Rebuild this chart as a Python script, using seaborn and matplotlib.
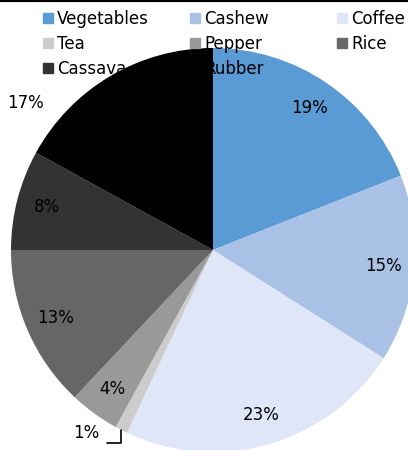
import numpy as np
import matplotlib
matplotlib.use("Agg")
import matplotlib.pyplot as plt
import seaborn as sns

# дані з діаграми (частки культур, %)
crops = ["Vegetables", "Cashew", "Coffee", "Tea", "Pepper", "Rice", "Cassava", "Rubber"]
shares = [19, 15, 23, 1, 4, 13, 8, 17]
crop_colors = ["#5B9BD5", "#AAC1E6", "#DFE6F7", "#CCCCCC", "#999999", "#666666", "#333333", "#000000"]

sns.set_theme(style="white")
plt.rcParams["font.family"] = ["DejaVu Sans"]
plt.rcParams["text.color"] = "black"

W, H, DPI = 408, 450, 100
fig = plt.figure(figsize=(W / DPI, H / DPI), dpi=DPI)
ax = fig.add_axes([0, 0, 1, 1])

# центр кола та радіус у пікселях
cx, cy, r = 213, 250, 202
palette = sns.color_palette(crop_colors)

wedges, texts, pcts = ax.pie(
    shares, colors=palette, startangle=90, counterclock=False,
    autopct="%1.0f%%", pctdistance=0.85,
    wedgeprops=dict(linewidth=0),
    textprops=dict(fontsize=12, color="black"),
)

# підписи, які Excel виніс за межі кола (радіус, кут)
outside = {"Tea": (1.10, -124.7), "Rubber": (1.18, 141.8)}
for name, (dist, ang) in outside.items():
    i = crops.index(name)
    tx, ty = dist * np.cos(np.radians(ang)), dist * np.sin(np.radians(ang))
    pcts[i].set_position((tx, ty))
    if name == "Tea":
        w = wedges[i]
        mid = np.radians((w.theta1 + w.theta2) / 2)
        ex, ey = np.cos(mid), np.sin(mid)
        ax.plot([ex, ex, tx + 0.10], [ey, ty - 0.05, ty - 0.05], color="black", lw=1.2)

ax.set_xlim(-cx / r, (W - cx) / r)
ax.set_ylim(-(H - cy) / r, cy / r)
ax.set_aspect("equal")
ax.axis("off")

# легенда: три колонки поверх кола
cols = [[0, 3, 6], [1, 4, 7], [2, 5]]
col_x = [43, 190, 337]
for idx, x0 in zip(cols, col_x):
    handles = [plt.Rectangle((0, 0), 1, 1, color=palette[i]) for i in idx]
    fig.legend(
        handles, [crops[i] for i in idx], loc="upper left",
        bbox_to_anchor=(x0 / W, 1 - 10 / H), frameon=False, fontsize=12,
        labelcolor="black",
        handlelength=0.6, handleheight=0.6, handletextpad=0.25,
        labelspacing=0.42, borderpad=0, borderaxespad=0,
    )

fig.add_artist(plt.Line2D([0, 1], [1 - 1 / H, 1 - 1 / H], transform=fig.transFigure,
                          color="black", lw=1.6))

fig.savefig("out.png", dpi=DPI)
